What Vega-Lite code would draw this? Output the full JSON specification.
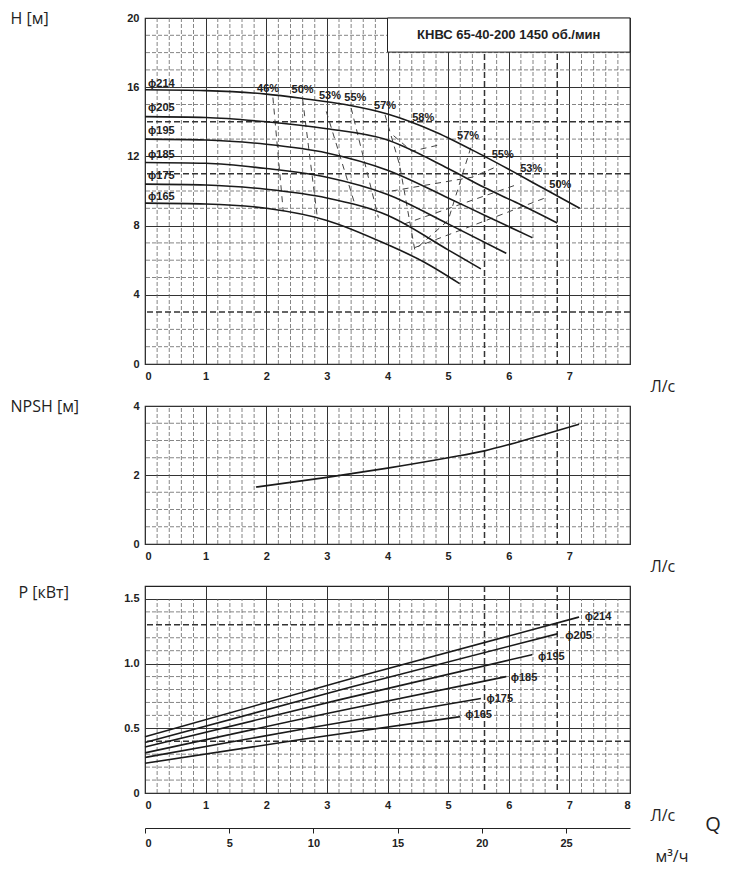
{
"$schema":"https://vega.github.io/schema/vega-lite/v6.json",
"background":"white",
"padding":{"left":9,"top":9,"right":5,"bottom":5},
"config":{"font":"Liberation Sans","view":{"stroke":"#222","strokeWidth":1.2},
 "axis":{"labelFont":"Liberation Sans","labelFontWeight":"bold","labelFontSize":11,"labelColor":"#222","domain":false,"ticks":false,"labelPadding":6,"gridColor":"#333","gridWidth":1,"gridOpacity":1,"titleFont":"Open Sans","titleFontSize":16,"titleFontWeight":"normal","titleColor":"#222"}},
"spacing":42,
"bounds":"flush",
"datasets":{
 "gx":[{"v":0.2},{"v":0.4},{"v":0.6},{"v":0.8},{"v":1.2},{"v":1.4},{"v":1.6},{"v":1.8},{"v":2.2},{"v":2.4},{"v":2.6},{"v":2.8},{"v":3.2},{"v":3.4},{"v":3.6},{"v":3.8},{"v":4.2},{"v":4.4},{"v":4.6},{"v":4.8},{"v":5.2},{"v":5.4},{"v":5.8},{"v":6.2},{"v":6.4},{"v":6.6},{"v":7.2},{"v":7.4},{"v":7.6},{"v":7.8}],
 "thx":[{"v":5.6},{"v":6.8}],
 "gyH":[{"v":1},{"v":2},{"v":5},{"v":6},{"v":7},{"v":9},{"v":10},{"v":13},{"v":15},{"v":17},{"v":18},{"v":19}],
 "thyH":[{"v":14},{"v":11},{"v":3}],
 "gyN":[{"v":0.5},{"v":1},{"v":1.5},{"v":2.5},{"v":3},{"v":3.5}],
 "gyP":[{"v":0.1},{"v":0.2},{"v":0.3},{"v":0.6},{"v":0.7},{"v":0.8},{"v":0.9},{"v":1.1},{"v":1.2},{"v":1.4}],
 "thyP":[{"v":1.3},{"v":0.4}],
 "H":[
  {"d":"214","q":0,"h":15.85},{"d":"214","q":1,"h":15.8},{"d":"214","q":2,"h":15.6},{"d":"214","q":2.6,"h":15.35},{"d":"214","q":3.3,"h":15.0},{"d":"214","q":4,"h":14.45},{"d":"214","q":4.8,"h":13.4},{"d":"214","q":5.6,"h":12.0},{"d":"214","q":6.6,"h":10.1},{"d":"214","q":7.17,"h":9.0},
  {"d":"205","q":0,"h":14.3},{"d":"205","q":1,"h":14.25},{"d":"205","q":2,"h":14.0},{"d":"205","q":3,"h":13.6},{"d":"205","q":3.95,"h":13.0},{"d":"205","q":5,"h":11.3},{"d":"205","q":5.6,"h":10.2},{"d":"205","q":6.2,"h":9.2},{"d":"205","q":6.8,"h":8.15},
  {"d":"195","q":0,"h":13.0},{"d":"195","q":1,"h":12.95},{"d":"195","q":2,"h":12.7},{"d":"195","q":3,"h":12.2},{"d":"195","q":4,"h":11.2},{"d":"195","q":5,"h":9.6},{"d":"195","q":5.6,"h":8.6},{"d":"195","q":6.39,"h":7.3},
  {"d":"185","q":0,"h":11.65},{"d":"185","q":1,"h":11.6},{"d":"185","q":2,"h":11.3},{"d":"185","q":3,"h":10.8},{"d":"185","q":4,"h":9.8},{"d":"185","q":5,"h":8.1},{"d":"185","q":5.96,"h":6.4},
  {"d":"175","q":0,"h":10.4},{"d":"175","q":1,"h":10.35},{"d":"175","q":2,"h":10.1},{"d":"175","q":3,"h":9.6},{"d":"175","q":4,"h":8.6},{"d":"175","q":5,"h":6.6},{"d":"175","q":5.54,"h":5.5},
  {"d":"165","q":0,"h":9.3},{"d":"165","q":1,"h":9.25},{"d":"165","q":2,"h":9.0},{"d":"165","q":3,"h":8.3},{"d":"165","q":4,"h":6.9},{"d":"165","q":4.6,"h":5.9},{"d":"165","q":5.19,"h":4.65}],
 "Hlab":[{"t":"ϕ214","q":0.05,"h":16.2},{"t":"ϕ205","q":0.05,"h":14.8},{"t":"ϕ195","q":0.05,"h":13.45},{"t":"ϕ185","q":0.05,"h":12.1},{"t":"ϕ175","q":0.05,"h":10.85},{"t":"ϕ165","q":0.05,"h":9.65}],
 "eff":[
  {"e":"46","o":1,"q":2.11,"h":15.4},{"e":"46","o":2,"q":2.28,"h":8.84},
  {"e":"50","o":1,"q":2.6,"h":15.3},{"e":"50","o":2,"q":2.85,"h":8.27},
  {"e":"53","o":1,"q":2.99,"h":14.6},{"e":"53","o":2,"q":3.46,"h":9.25},
  {"e":"55","o":1,"q":3.4,"h":14.8},{"e":"55","o":2,"q":3.85,"h":8.46},
  {"e":"57","o":1,"q":3.96,"h":14.4},{"e":"57","o":2,"q":4.2,"h":11.5},{"e":"57","o":3,"q":4.45,"h":6.6},{"e":"57","o":4,"q":5.0,"h":8.3},{"e":"57","o":5,"q":5.4,"h":12.8},
  {"e":"58","o":1,"q":4.1,"h":13.2},{"e":"58","o":2,"q":4.4,"h":12.3},{"e":"58","o":3,"q":4.9,"h":12.7},
  {"e":"55r","o":1,"q":4.07,"h":10.0},{"e":"55r","o":2,"q":5.4,"h":10.8},{"e":"55r","o":3,"q":5.83,"h":11.45},
  {"e":"53r","o":1,"q":4.28,"h":8.1},{"e":"53r","o":2,"q":6.16,"h":10.4},
  {"e":"50r","o":1,"q":4.45,"h":6.73},{"e":"50r","o":2,"q":6.6,"h":9.6}],
 "efflab":[{"t":"46%","q":2.03,"h":15.9},{"t":"50%","q":2.6,"h":15.85},{"t":"53%","q":3.05,"h":15.5},{"t":"55%","q":3.47,"h":15.4},{"t":"57%","q":3.96,"h":14.9},{"t":"58%","q":4.59,"h":14.2},{"t":"57%","q":5.33,"h":13.2},{"t":"55%","q":5.9,"h":12.1},{"t":"53%","q":6.37,"h":11.3},{"t":"50%","q":6.85,"h":10.35}],
 "box":[{"x1":4.0,"x2":8,"y1":18.03,"y2":20,"t":"КНВС 65-40-200 1450 об./мин","xm":6.0,"ym":19.0}],
 "npsh":[{"q":1.83,"n":1.65},{"q":3,"n":1.93},{"q":4,"n":2.2},{"q":5,"n":2.5},{"q":5.6,"n":2.7},{"q":6,"n":2.88},{"q":6.5,"n":3.13},{"q":7.16,"n":3.47}],
 "P":[
  {"d":"214","q":0,"p":0.435},{"d":"214","q":3.6,"p":0.91},{"d":"214","q":7.16,"p":1.36},
  {"d":"205","q":0,"p":0.39},{"d":"205","q":3.4,"p":0.82},{"d":"205","q":6.8,"p":1.23},
  {"d":"195","q":0,"p":0.355},{"d":"195","q":3.2,"p":0.72},{"d":"195","q":6.39,"p":1.07},
  {"d":"185","q":0,"p":0.31},{"d":"185","q":3.0,"p":0.615},{"d":"185","q":5.96,"p":0.9},
  {"d":"175","q":0,"p":0.275},{"d":"175","q":2.8,"p":0.51},{"d":"175","q":5.54,"p":0.73},
  {"d":"165","q":0,"p":0.23},{"d":"165","q":2.6,"p":0.415},{"d":"165","q":5.2,"p":0.59}],
 "Plab":[{"t":"ϕ214","q":7.22,"p":1.36},{"t":"ϕ205","q":6.9,"p":1.21},{"t":"ϕ195","q":6.45,"p":1.05},{"t":"ϕ185","q":6.0,"p":0.89},{"t":"ϕ175","q":5.6,"p":0.73},{"t":"ϕ165","q":5.25,"p":0.6}],
 "Q":[{"t":"Q","q":9.37,"p":-0.25}],
 "m3":[{"m":0},{"m":25}]
},
"vconcat":[
 {"width":485,"height":346,
  "layer":[
   {"data":{"name":"gx"},"mark":{"type":"rule","color":"#666","strokeDash":[4,2],"strokeWidth":0.8},"encoding":{"x":{"field":"v","type":"quantitative","scale":{"domain":[0,8]},"axis":{"values":[0,1,2,3,4,5,6,7],"format":"d","grid":true,"title":"Л/с","titleX":505,"titleY":22,"titleAlign":"left","titleBaseline":"middle"}},"y":{"datum":0,"type":"quantitative","scale":{"domain":[0,20]},"axis":{"values":[0,4,8,12,16,20],"grid":true,"title":"H [м]","titleAngle":0,"titleAlign":"left","titleBaseline":"middle","titleX":-135,"titleY":0}},"y2":{"datum":20}}},
   {"data":{"name":"gyH"},"mark":{"type":"rule","color":"#666","strokeDash":[4,2],"strokeWidth":0.8},"encoding":{"y":{"field":"v","type":"quantitative"}}},
   {"data":{"name":"thx"},"mark":{"type":"rule","color":"#333","strokeDash":[6,3],"strokeWidth":1.5},"encoding":{"x":{"field":"v","type":"quantitative"}}},
   {"data":{"name":"thyH"},"mark":{"type":"rule","color":"#333","strokeDash":[6,3],"strokeWidth":1.5},"encoding":{"y":{"field":"v","type":"quantitative"}}},
   {"data":{"name":"box"},"mark":{"type":"rect","fill":"white","stroke":"#222","strokeWidth":1},"encoding":{"x":{"field":"x1","type":"quantitative"},"x2":{"field":"x2"},"y":{"field":"y1","type":"quantitative"},"y2":{"field":"y2"}}},
   {"data":{"name":"box"},"mark":{"type":"text","font":"Liberation Sans","fontWeight":"bold","fontSize":13,"color":"#222"},"encoding":{"x":{"field":"xm","type":"quantitative"},"y":{"field":"ym","type":"quantitative"},"text":{"field":"t"}}},
   {"data":{"name":"eff"},"mark":{"type":"line","color":"#444","strokeDash":[6,5],"strokeWidth":1},"encoding":{"x":{"field":"q","type":"quantitative"},"y":{"field":"h","type":"quantitative"},"detail":{"field":"e"},"order":{"field":"o"}}},
   {"data":{"name":"H"},"mark":{"type":"line","color":"#1a1a1a","strokeWidth":1.6,"interpolate":"monotone"},"encoding":{"x":{"field":"q","type":"quantitative"},"y":{"field":"h","type":"quantitative"},"detail":{"field":"d"}}},
   {"data":{"name":"Hlab"},"mark":{"type":"text","align":"left","fontWeight":"bold","fontSize":11,"color":"#222"},"encoding":{"x":{"field":"q","type":"quantitative"},"y":{"field":"h","type":"quantitative"},"text":{"field":"t"}}},
   {"data":{"name":"efflab"},"mark":{"type":"text","fontWeight":"bold","fontSize":11,"color":"#222"},"encoding":{"x":{"field":"q","type":"quantitative"},"y":{"field":"h","type":"quantitative"},"text":{"field":"t"}}}
  ]},
 {"width":485,"height":138,
  "layer":[
   {"data":{"name":"gx"},"mark":{"type":"rule","color":"#666","strokeDash":[4,2],"strokeWidth":0.8},"encoding":{"x":{"field":"v","type":"quantitative","scale":{"domain":[0,8]},"axis":{"values":[0,1,2,3,4,5,6,7],"format":"d","grid":true,"title":"Л/с","titleX":505,"titleY":22,"titleAlign":"left","titleBaseline":"middle"}},"y":{"datum":0,"type":"quantitative","scale":{"domain":[0,4]},"axis":{"values":[0,2,4],"grid":true,"title":"NPSH [м]","titleAngle":0,"titleAlign":"left","titleBaseline":"middle","titleX":-135,"titleY":0}},"y2":{"datum":4}}},
   {"data":{"name":"gyN"},"mark":{"type":"rule","color":"#666","strokeDash":[4,2],"strokeWidth":0.8},"encoding":{"y":{"field":"v","type":"quantitative"}}},
   {"data":{"name":"thx"},"mark":{"type":"rule","color":"#333","strokeDash":[6,3],"strokeWidth":1.5},"encoding":{"x":{"field":"v","type":"quantitative"}}},
   {"data":{"name":"npsh"},"mark":{"type":"line","color":"#1a1a1a","strokeWidth":1.6,"interpolate":"monotone"},"encoding":{"x":{"field":"q","type":"quantitative"},"y":{"field":"n","type":"quantitative"}}}
  ]},
 {"width":485,"height":207,
  "resolve":{"scale":{"x":"independent"},"axis":{"x":"independent"}},
  "layer":[
   {"layer":[
   {"data":{"name":"gx"},"mark":{"type":"rule","color":"#666","strokeDash":[4,2],"strokeWidth":0.8},"encoding":{"x":{"field":"v","type":"quantitative","scale":{"domain":[0,8]},"axis":{"orient":"bottom","values":[0,1,2,3,4,5,6,7,8],"format":"d","grid":true,"title":"Л/с","titleX":505,"titleY":22,"titleAlign":"left","titleBaseline":"middle"}},"y":{"datum":0,"type":"quantitative","scale":{"domain":[0,1.5]},"axis":{"values":[0,0.5,1.0,1.5],"format":".1~f","labelExpr":"datum.value == 0 ? '0' : format(datum.value, '.1f')","grid":true,"title":"P [кВт]","titleAngle":0,"titleAlign":"left","titleBaseline":"middle","titleX":-127,"titleY":6}},"y2":{"datum":1.5}}},
   {"data":{"name":"gyP"},"mark":{"type":"rule","color":"#666","strokeDash":[4,2],"strokeWidth":0.8},"encoding":{"y":{"field":"v","type":"quantitative"}}},
   {"data":{"name":"thx"},"mark":{"type":"rule","color":"#333","strokeDash":[6,3],"strokeWidth":1.5},"encoding":{"x":{"field":"v","type":"quantitative"}}},
   {"data":{"name":"thyP"},"mark":{"type":"rule","color":"#333","strokeDash":[6,3],"strokeWidth":1.5},"encoding":{"y":{"field":"v","type":"quantitative"}}},
   {"data":{"name":"P"},"mark":{"type":"line","color":"#1a1a1a","strokeWidth":1.6,"interpolate":"monotone"},"encoding":{"x":{"field":"q","type":"quantitative"},"y":{"field":"p","type":"quantitative"},"detail":{"field":"d"}}},
   {"data":{"name":"Plab"},"mark":{"type":"text","align":"left","fontWeight":"bold","fontSize":11,"color":"#222","dx":2},"encoding":{"x":{"field":"q","type":"quantitative"},"y":{"field":"p","type":"quantitative"},"text":{"field":"t"}}},
   {"data":{"name":"Q"},"mark":{"type":"text","fontSize":20,"font":"Open Sans","color":"#222","clip":false},"encoding":{"x":{"field":"q","type":"quantitative"},"y":{"field":"p","type":"quantitative"},"text":{"field":"t"}}}
   ]},
   {"data":{"name":"m3"},"mark":{"type":"point","opacity":0},"encoding":{"x":{"field":"m","type":"quantitative","scale":{"domain":[0,28.8]},"axis":{"orient":"bottom","offset":35,"values":[0,5,10,15,20,25],"domain":true,"domainColor":"#222","ticks":true,"tickColor":"#222","tickSize":5,"labelPadding":4,"title":"м³/ч","titleX":510,"titleY":28,"titleAlign":"left","titleBaseline":"middle"}},"y":{"datum":0,"type":"quantitative"}}}
  ]}
]
}
